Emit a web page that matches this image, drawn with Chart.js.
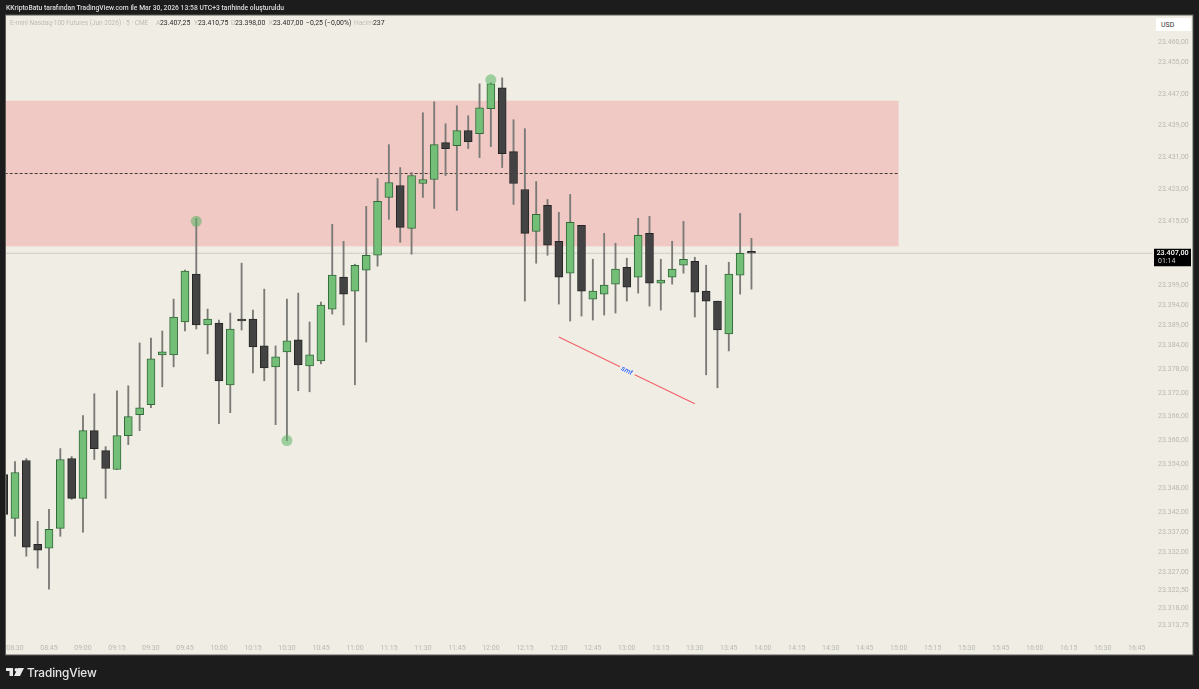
<!DOCTYPE html>
<html><head><meta charset="utf-8">
<script src="https://cdn.jsdelivr.net/npm/chart.js@4"></script>
<style>
html,body{margin:0;padding:0;background:#1c1c1c;width:1199px;height:689px;overflow:hidden}
canvas{position:absolute;left:0;top:0}
.t{position:absolute;white-space:nowrap;font-family:Roboto,"Liberation Sans",sans-serif;line-height:10px}
.g{color:#bcbcb6;font-size:6.5px}
.k{color:#2a2a2a;font-size:6.9px}
</style></head><body>
<canvas id="c" width="1199" height="689"></canvas>
<div class="t" style="left:6px;top:3px;color:#dcdcdc;font-size:6.75px;font-weight:500" id="hdr">KKriptoBatu tarafından TradingView.com ile Mar 30, 2026 13:58 UTC+3 tarihinde oluşturuldu</div>
<div class="t g" style="left:10px;top:18px">E-mini Nasdaq-100 Futures (Jun 2026) · 5 · CME</div>
<div class="t g" style="left:156px;top:18px">A</div><div class="t k" style="left:160px;top:18px">23.407,25</div>
<div class="t g" style="left:194px;top:18px">Y</div><div class="t k" style="left:198px;top:18px">23.410,75</div>
<div class="t g" style="left:231px;top:18px">D</div><div class="t k" style="left:235px;top:18px">23.398,00</div>
<div class="t g" style="left:269px;top:18px">K</div><div class="t k" style="left:273px;top:18px">23.407,00</div>
<div class="t k" style="left:306px;top:18px">−0,25 (−0,00%)</div>
<div class="t g" style="left:354px;top:18px">Hacim</div><div class="t k" style="left:373px;top:18px">237</div>
<div style="position:absolute;left:1156px;top:18px;width:35px;height:13px;background:#fff;border-radius:1px"></div>
<div class="t" style="left:1161px;top:20px;color:#333;font-size:7px">USD</div>
<svg style="position:absolute;left:6px;top:667px" width="18" height="10" viewBox="0 0 36 20"><path fill="#e8e8e8" d="M0 2h14v16H7V8H0zM24 2h12l-8 16H16zM17 5.5a3.5 3.5 0 1 1 0 .01z"/></svg>
<div class="t" style="left:27px;top:668px;color:#e8e8e8;font-size:11.8px;font-weight:500;line-height:11px;font-family:Inter,Roboto,sans-serif;letter-spacing:-.1px">TradingView</div>
<script>
const tickLabels = ["08:30","08:45","09:00","09:15","09:30","09:45","10:00","10:15","10:30","10:45","11:00","11:15","11:30","11:45","12:00","12:15","12:30","12:45","13:00","13:15","13:30","13:45","14:00","14:15","14:30","14:45","15:00","15:15","15:30","15:45","16:00","16:15","16:30","16:45"];
const priceTicks = [23460,23455,23447,23439,23431,23423,23415,23399,23394,23389,23384,23378,23372,23366,23360,23354,23348,23342,23337,23332,23327,23322.5,23318,23313.75];
const opens = [23351.5,23340.5,23355,23334,23333,23338,23355.5,23345.5,23362.5,23357.5,23352.75,23361.25,23366.5,23369,23381.5,23381.5,23389.75,23401.75,23389,23389.5,23374,23390.25,23390.5,23383.75,23378.5,23382.25,23385.25,23378.75,23380,23393,23401,23397.5,23402.75,23406.5,23421,23424,23413.25,23424.5,23425.5,23434.75,23434,23437.75,23437,23443.25,23448.5,23432.5,23423,23412.5,23419,23410,23402,23414,23395.5,23396.75,23399.25,23403.5,23401,23412,23399.5,23401,23404,23405,23397.5,23395,23386.75,23401.5,23407.25];
const highs = [23352,23354.75,23355.5,23339.75,23342.75,23358,23356,23366.25,23371.75,23358.5,23372.5,23373.75,23384.5,23385.75,23387.5,23395.5,23402.75,23415.75,23393,23390.25,23392,23404.5,23392.75,23398,23383.75,23395.5,23397,23389.75,23394.75,23414.25,23410,23404.25,23418.75,23425.75,23434.25,23428.5,23427.25,23442.25,23445,23439.5,23444,23441.5,23449.5,23449.75,23451,23440.5,23438.25,23425,23420.5,23417.25,23421.75,23414,23405.5,23412,23409.5,23405.75,23415.75,23416.25,23405.5,23410,23415,23406,23404,23395,23404.75,23417,23410.75];
const lows = [23338,23336,23331,23328,23322.75,23336,23345.25,23337,23355.25,23345.5,23352.75,23359,23362.5,23368.25,23373.5,23378.5,23387.5,23388,23381.75,23364.25,23367,23387.75,23377,23375,23364,23360,23372.5,23372.25,23379.25,23391.75,23389,23374,23384.75,23403.75,23415.5,23409.75,23406.75,23421,23418.25,23426.5,23417.75,23433.25,23431,23433.75,23428.5,23419.25,23395,23404.5,23406.5,23394.25,23390,23391.25,23390.25,23391.5,23392,23395,23397,23393.75,23392.75,23399.25,23402,23391,23376.5,23373.25,23382.5,23396.75,23398];
const closes = [23341.5,23352,23333.25,23332.5,23337.75,23355.25,23345.5,23362.5,23358,23353,23361.25,23366,23368.25,23380.5,23382.25,23391,23402.5,23389,23390.5,23375,23388,23390,23383.5,23378.25,23381,23385,23379,23381.5,23394,23401.5,23396.75,23404,23406.5,23420,23424.75,23413.5,23426.5,23425.5,23434.25,23433.25,23437.75,23435,23443.5,23449.5,23432,23424.5,23412,23416.75,23409,23401,23414.75,23397.5,23397.5,23399,23403,23398.5,23411.5,23399.5,23400.25,23403,23405.5,23397.25,23395,23387.75,23401.75,23407,23407];
const firstBarIndex = -1;
const zoneTop = 23445.25, zoneBottom = 23408.75, zoneMid = 23427, zoneEndIndex = 78;
const lastPrice = 23407, lastCountdown = "01:14";
const smtIndex = [48,53.4,54.7,60], smtPrice = [23386,23378.5,23376.5,23369.25];
const markerIndex = [16,24,42], markerPrice = [23415,23360,23450.5];

const xMin=-0.794, xMax=100.44, yMin=23310.48, yMax=23466.77;
const candles = opens.map((o,k)=>k);
const xOf = k => k+firstBarIndex;
const fmt = v => { const s=v.toFixed(2).replace('.',','); return s.slice(0,2)+'.'+s.slice(2); };
const upFill='#74bf78', dnFill='#434343', upEdge='#33693a', dnEdge='#262626', wick='#7a7a76';

const framePlugin={id:'frame',
 beforeDraw(ch){const c=ch.ctx;c.save();c.fillStyle='#f0ede4';c.fillRect(5.5,15,1187.5,640);c.strokeStyle='#5c5c58';c.lineWidth=1;c.strokeRect(5.5,15,1187.5,640);c.restore();},
 afterDraw(ch){const c=ch.ctx,x=ch.scales.x,y=ch.scales.y;c.save();
  const py=y.getPixelForValue(lastPrice);
  c.fillStyle='#000';c.fillRect(1154,py-4.5,37,17.5);
  c.textAlign='center';c.textBaseline='middle';
  c.fillStyle='#fff';c.font='500 7.2px Roboto';c.fillText(fmt(lastPrice),1172.5,py-0.3);
  c.fillStyle='#cfcfcf';c.font='7px Roboto';c.textAlign='left';c.fillText(lastCountdown,1158,py+8);
  c.translate(x.getPixelForValue(54),y.getPixelForValue(23377.5));c.rotate(26.3*Math.PI/180);
  c.textAlign='center';c.fillStyle='#2962ff';c.font='italic 500 7px Roboto';c.fillText('smt',0,0);
  c.restore();}
};

new Chart(document.getElementById('c'),{
 type:'bar',
 plugins:[framePlugin],
 data:{datasets:[
  {type:'line',order:1,data:markerIndex.map((x,k)=>({x,y:markerPrice[k]})),showLine:false,pointRadius:5.5,pointBorderWidth:0,pointBackgroundColor:'rgba(90,180,100,0.55)'},
  {type:'line',order:2,data:[{x:smtIndex[0],y:smtPrice[0]},{x:smtIndex[1],y:smtPrice[1]},{x:54,y:null},{x:smtIndex[2],y:smtPrice[2]},{x:smtIndex[3],y:smtPrice[3]}],borderColor:'#f2606a',borderWidth:1.1,pointRadius:0,spanGaps:false},
  {type:'bar',order:3,grouped:false,barThickness:8,minBarLength:2,data:candles.map(k=>({x:xOf(k),y:[opens[k],closes[k]]})),
   backgroundColor:candles.map(k=>closes[k]>=opens[k]?upFill:dnFill),borderColor:candles.map(k=>closes[k]>=opens[k]?upEdge:dnEdge),borderWidth:1,borderSkipped:false},
  {type:'bar',order:4,grouped:false,barThickness:1.2,data:candles.map(k=>({x:xOf(k),y:[lows[k],highs[k]]})),backgroundColor:wick,borderWidth:0},
  {type:'line',order:5,data:[{x:xMin-1,y:zoneMid},{x:zoneEndIndex,y:zoneMid}],borderColor:'#403a38',borderWidth:1,borderDash:[3,2],pointRadius:0},
  {type:'line',order:6,data:[{x:xMin-1,y:lastPrice},{x:xMax+1,y:lastPrice}],borderColor:'#a8a8a0',borderWidth:1,borderDash:[1,1],pointRadius:0},
  {type:'line',order:7,data:[{x:xMin-1,y:zoneTop},{x:zoneEndIndex,y:zoneTop}],borderWidth:0,pointRadius:0,fill:{value:zoneBottom},backgroundColor:'rgba(242,54,69,0.2)'}
 ]},
 options:{responsive:false,animation:false,devicePixelRatio:1,
  layout:{padding:{left:6,top:15,right:6,bottom:34}},
  plugins:{legend:{display:false},tooltip:{enabled:false},title:{display:false}},
  scales:{
   x:{type:'linear',offset:false,min:xMin,max:xMax,grid:{display:false,drawTicks:false},border:{display:false},
    afterBuildTicks(s){s.ticks=tickLabels.map((l,k)=>({value:k*3}));},
    afterFit(s){s.height=17;},
    ticks:{autoSkip:false,maxRotation:0,padding:6,color:'#b9b9b2',font:{family:'Roboto',size:7},callback:v=>tickLabels[v/3]}},
   y:{type:'linear',position:'right',min:yMin,max:yMax,grid:{display:false,drawTicks:false},border:{display:false},
    afterBuildTicks(s){s.ticks=priceTicks.map(v=>({value:v}));},
    afterFit(s){s.width=40;},
    ticks:{autoSkip:false,padding:5,color:'#b9b9b2',font:{family:'Roboto',size:7},callback:v=>fmt(v)}}
  }
 }
});
</script>
</body></html>
